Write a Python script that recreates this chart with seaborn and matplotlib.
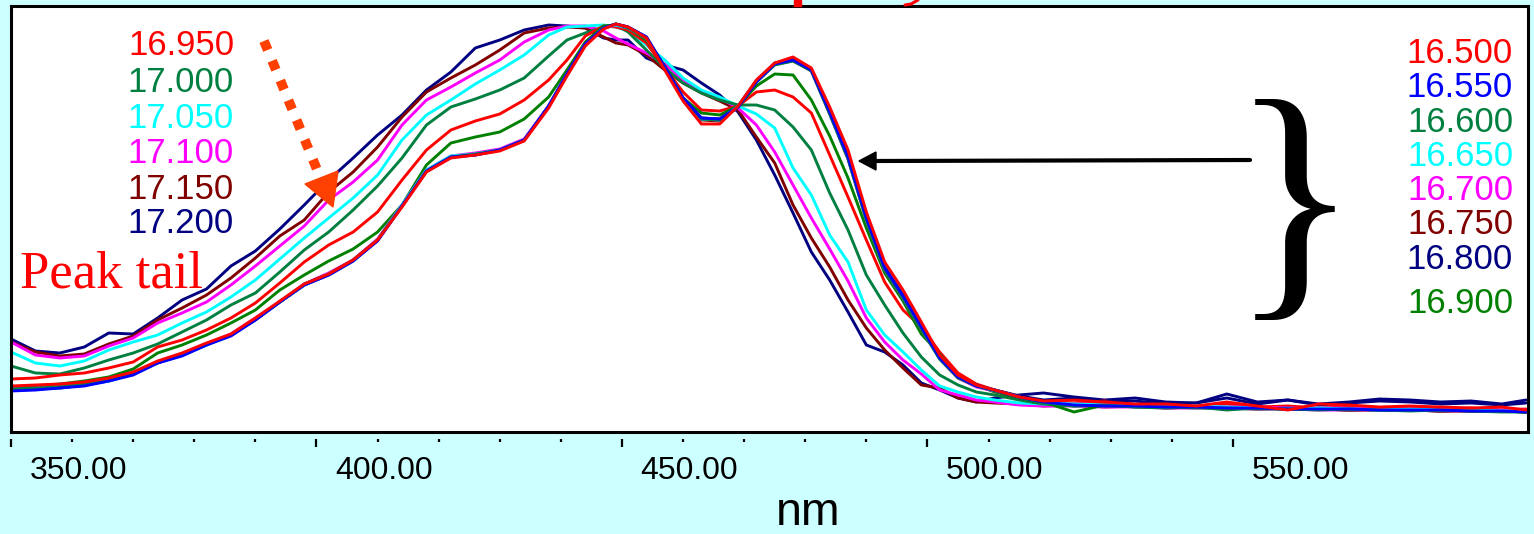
import matplotlib
matplotlib.use("Agg")
import matplotlib.pyplot as plt
import seaborn as sns
import pandas as pd
from matplotlib.lines import Line2D
from matplotlib.patches import Polygon, Rectangle
from matplotlib.ticker import FixedLocator, NullFormatter

# ---------------- data (absorbance, mAU) ----------------
wavelength_nm = [339, 343, 347, 351, 355, 359, 363, 367, 371, 375, 379, 383, 387, 391, 395,
                 399, 403, 407, 411, 415, 419, 423, 427, 430, 433, 436, 438, 440, 443, 446,
                 449, 452, 455, 458, 461, 464, 467, 470, 473, 476, 479, 482, 485, 488, 491,
                 494, 497, 500, 504, 508, 513, 518, 523, 528, 533, 538, 543, 548, 553, 558,
                 563, 568, 573, 578, 583, 587]

abs_16500 = [92, 94, 96, 100, 108, 120, 142, 158, 178, 196,
             228, 262, 296, 316, 344, 384, 450, 520, 548, 554,
             562, 582, 648, 712, 772, 806, 816, 810, 788, 724,
             662, 616, 616, 652, 704, 738, 750, 728, 650, 564,
             440, 340, 284, 220, 154, 114, 94, 84, 70, 62,
             64, 60, 56, 56, 52, 60, 52, 44, 56, 54,
             50, 52, 50, 48, 50, 44]
abs_16550 = [82, 84, 88, 92, 102, 114, 138, 152, 174, 192,
             224, 260, 294, 314, 342, 382, 452, 522, 550, 554,
             564, 584, 652, 716, 776, 808, 816, 810, 790, 730,
             668, 628, 626, 650, 700, 736, 744, 724, 640, 550,
             428, 328, 272, 210, 148, 110, 92, 84, 70, 60,
             54, 52, 52, 50, 50, 48, 48, 46, 46, 46,
             44, 44, 44, 42, 42, 40]
abs_16600 = [86, 88, 90, 96, 104, 116, 140, 154, 176, 194,
             226, 260, 296, 316, 344, 384, 452, 522, 550, 556,
             564, 584, 650, 714, 774, 808, 816, 808, 788, 728,
             666, 626, 624, 650, 700, 734, 742, 722, 636, 546,
             424, 324, 268, 206, 146, 108, 92, 82, 68, 58,
             52, 54, 50, 50, 48, 48, 46, 46, 44, 46,
             44, 42, 44, 42, 40, 40]
abs_16650 = [84, 86, 88, 94, 102, 116, 140, 154, 174, 194,
             226, 260, 294, 316, 342, 384, 454, 524, 552, 556,
             564, 584, 652, 714, 774, 808, 814, 808, 788, 728,
             666, 626, 624, 652, 702, 736, 744, 724, 638, 548,
             426, 326, 270, 208, 146, 110, 92, 84, 70, 58,
             56, 54, 52, 50, 52, 50, 48, 46, 48, 46,
             44, 46, 44, 44, 42, 42]
abs_16700 = [86, 88, 90, 96, 104, 118, 140, 156, 176, 196,
             228, 260, 296, 318, 344, 386, 454, 524, 552, 558,
             566, 586, 652, 716, 776, 808, 814, 808, 788, 728,
             666, 626, 624, 650, 702, 736, 744, 722, 636, 546,
             424, 324, 268, 206, 146, 108, 90, 82, 70, 60,
             56, 56, 54, 52, 52, 50, 50, 48, 48, 48,
             46, 46, 46, 44, 44, 44]
abs_16750 = [84, 86, 90, 94, 104, 116, 140, 154, 176, 194,
             226, 260, 294, 316, 344, 384, 452, 522, 550, 556,
             564, 584, 652, 714, 774, 808, 814, 808, 788, 728,
             666, 624, 622, 650, 700, 736, 742, 724, 638, 548,
             426, 326, 270, 208, 148, 110, 92, 82, 68, 58,
             54, 52, 52, 50, 50, 48, 48, 46, 46, 44,
             44, 44, 42, 42, 42, 40]
abs_16800 = [84, 86, 88, 94, 102, 116, 138, 154, 174, 194,
             224, 260, 294, 314, 342, 384, 452, 522, 550, 554,
             564, 584, 652, 716, 776, 808, 816, 810, 790, 730,
             668, 628, 626, 652, 702, 738, 746, 726, 642, 552,
             430, 330, 274, 212, 150, 112, 94, 84, 72, 64,
             68, 60, 62, 56, 58, 68, 56, 64, 54, 58,
             62, 60, 56, 58, 54, 58]
abs_16900 = [90, 92, 96, 102, 110, 126, 158, 174, 194, 218,
             244, 284, 314, 342, 366, 400, 454, 534, 578, 590,
             600, 626, 670, 724, 780, 812, 814, 808, 784, 732,
             668, 638, 634, 652, 692, 716, 714, 664, 592, 508,
             408, 318, 262, 196, 156, 110, 94, 80, 68, 60,
             40, 54, 52, 52, 50, 48, 48, 48, 46, 46,
             44, 44, 44, 42, 42, 40]
abs_16950 = [106, 108, 114, 118, 128, 140, 170, 184, 204, 228,
             258, 298, 340, 374, 400, 440, 504, 564, 604, 622,
             636, 664, 704, 744, 792, 812, 810, 804, 778, 728,
             680, 644, 642, 652, 680, 684, 670, 638, 554, 470,
             384, 300, 244, 210, 160, 118, 96, 84, 72, 62,
             58, 62, 54, 56, 52, 56, 50, 52, 48, 50,
             46, 50, 46, 48, 44, 46]
abs_17000 = [132, 118, 116, 128, 144, 158, 176, 200, 224, 254,
             278, 320, 364, 400, 444, 492, 548, 614, 650, 666,
             684, 708, 752, 784, 798, 810, 814, 800, 764, 728,
             698, 678, 664, 654, 654, 644, 610, 564, 478, 404,
             314, 254, 198, 150, 114, 94, 80, 74, 64, 56,
             52, 54, 50, 48, 50, 44, 48, 46, 46, 44,
             46, 44, 42, 44, 42, 40]
abs_17050 = [160, 138, 132, 142, 164, 180, 194, 218, 240, 270,
             304, 346, 388, 428, 468, 514, 584, 634, 664, 696,
             724, 754, 794, 810, 812, 814, 810, 802, 774, 744,
             708, 684, 670, 652, 636, 608, 528, 474, 394, 340,
             244, 194, 160, 124, 92, 80, 70, 64, 58, 56,
             54, 52, 52, 50, 50, 48, 48, 46, 46, 46,
             44, 44, 44, 42, 42, 40]
abs_17100 = [180, 154, 148, 152, 172, 188, 218, 238, 260, 294,
             332, 372, 412, 464, 500, 544, 614, 664, 690, 718,
             744, 780, 804, 812, 812, 802, 788, 776, 758, 736,
             704, 680, 668, 648, 614, 560, 494, 428, 366, 302,
             228, 180, 144, 116, 84, 74, 64, 60, 54, 52,
             52, 50, 50, 48, 48, 48, 46, 46, 44, 44,
             44, 44, 42, 42, 42, 40]
abs_17150 = [180, 160, 152, 156, 176, 192, 224, 248, 274, 308,
             348, 392, 424, 480, 520, 570, 630, 680, 708, 734,
             764, 798, 808, 810, 808, 790, 778, 774, 754, 724,
             698, 678, 662, 644, 590, 538, 454, 388, 330, 264,
             208, 164, 128, 94, 88, 68, 60, 58, 56, 52,
             54, 50, 52, 48, 50, 48, 46, 48, 46, 44,
             46, 44, 42, 44, 42, 42]
abs_17200 = [186, 162, 158, 170, 198, 196, 228, 264, 286, 332,
             362, 406, 454, 504, 548, 594, 634, 684, 720, 768,
             784, 804, 814, 812, 808, 788, 784, 784, 748, 734,
             724, 698, 674, 640, 584, 514, 438, 360, 304, 240,
             174, 160, 134, 98, 84, 68, 60, 68, 74, 78,
             70, 64, 68, 60, 58, 76, 60, 64, 56, 60,
             66, 64, 60, 62, 56, 64]

series_labels = ["16.500", "16.550", "16.600", "16.650", "16.700", "16.750", "16.800",
                 "16.900", "16.950", "17.000", "17.050", "17.100", "17.150", "17.200"]
series_values = [abs_16500, abs_16550, abs_16600, abs_16650, abs_16700, abs_16750, abs_16800,
                 abs_16900, abs_16950, abs_17000, abs_17050, abs_17100, abs_17150, abs_17200]
series_colors = ["#FF0000", "#0000FF", "#008040", "#00FFFF", "#FF00FF", "#800000", "#000080",
                 "#008000", "#FF0000", "#008040", "#00FFFF", "#FF00FF", "#800000", "#000080"]

tick_values = [350, 400, 450, 500, 550]
tick_labels = ["350.00", "400.00", "450.00", "500.00", "550.00"]
mark_major = [339, 389, 439, 489, 539]
mark_minor = [349, 359, 369, 379, 399, 409, 419, 429, 449, 459, 469, 479,
              499, 509, 519, 529]

left_labels = ["16.950", "17.000", "17.050", "17.100", "17.150", "17.200"]
right_labels = ["16.500", "16.550", "16.600", "16.650", "16.700", "16.750", "16.800", "16.900"]

# ---------------- table ----------------
rows = []
for lab, vals in zip(series_labels, series_values):
    for w, v in zip(wavelength_nm, vals):
        rows.append({"nm": w, "mAU": v, "series": lab})
df = pd.DataFrame(rows)
palette = dict(zip(series_labels, series_colors))

# ---------------- style ----------------
sns.set_theme(style="white")
plt.rcParams["font.family"] = ["Liberation Sans", "DejaVu Sans"]

W, H = 1534, 534
fig = plt.figure(figsize=(W / 100, H / 100), dpi=100, facecolor="#CCFFFF")
ax = fig.add_axes([11 / W, 1 - 432 / H, 1517 / W, 426 / H])
ax.set_facecolor("white")

draw_order = series_labels[::-1]
sns.lineplot(data=df, x="nm", y="mAU", hue="series", hue_order=draw_order,
             palette=palette, estimator=None, sort=False, linewidth=2.1,
             legend=False, ax=ax)

ax.set_xlim(339, 587.3)
ax.set_ylim(0, 852)
ax.set_yticks([])
ax.set_ylabel("")
ax.set_xticks(tick_values, tick_labels)
ax.tick_params(axis="x", length=0, pad=17, labelsize=23, colors="black")
for sp in ax.spines.values():
    sp.set_visible(True)
    sp.set_color("black")
    sp.set_linewidth(2.2)

ax.set_xlabel("nm", fontsize=33.5, color="black")
ax.xaxis.label.set_va("center")
ax.xaxis.set_label_coords((808 - 11) / 1517, (432 - 513) / 426)

# detached tick marks below the axis
sec = ax.secondary_xaxis(-0.016)
sec.spines["bottom"].set_visible(False)
sec.xaxis.set_major_locator(FixedLocator(mark_major))
sec.xaxis.set_minor_locator(FixedLocator(mark_minor))
sec.xaxis.set_major_formatter(NullFormatter())
sec.xaxis.set_minor_formatter(NullFormatter())
sec.tick_params(which="major", direction="out", length=6, width=1.6, color="black")
sec.tick_params(which="minor", direction="out", length=2.5, width=1.6, color="black")


def fx(x):
    return x / W


def fy(y):
    return 1 - y / H


# series annotation columns
left_base = [55, 92, 128, 163, 199, 233]
for lab, yb in zip(left_labels, left_base):
    fig.text(fx(234), fy(yb), lab, ha="right", va="baseline", fontsize=25,
             color=palette[lab])
right_base = [63, 97, 132, 166, 200, 234, 269, 313]
for lab, yb in zip(right_labels, right_base):
    fig.text(fx(1513), fy(yb), lab, ha="right", va="baseline", fontsize=25,
             color=palette[lab])

fig.text(fx(20), fy(287), "Peak tail", ha="left", va="baseline", fontsize=38,
         color="#FF0000", family=["Liberation Serif", "DejaVu Serif"])

# brace
fig.text(fx(1295), fy(220), "}", ha="center", va="center", fontsize=192,
         color="black", family=["Liberation Serif", "DejaVu Serif"])

# black arrow
fig.add_artist(Line2D([fx(1250), fx(872)], [fy(160), fy(161)], color="black", lw=3.0,
                      transform=fig.transFigure))
fig.add_artist(Polygon([[fx(859), fy(161)], [fx(876), fy(152)], [fx(876), fy(170)]],
                       closed=True, color="black", transform=fig.transFigure))

# dotted orange arrow
fig.add_artist(Line2D([fx(264), fx(318)], [fy(41), fy(172)], color="#FF4000", lw=7.0,
                      linestyle=(0, (1, 1.2)), solid_capstyle="butt", dash_capstyle="butt",
                      transform=fig.transFigure))
fig.add_artist(Polygon([[fx(333), fy(207)], [fx(305), fy(184)], [fx(338), fy(171)]],
                       closed=True, color="#FF4000", transform=fig.transFigure))

# cropped red title remnants above the frame
fig.add_artist(Rectangle((fx(794), fy(6)), 7 / W, 6 / H, color="#FF0000",
                         transform=fig.transFigure))
fig.add_artist(Line2D([fx(905), fx(911), fx(918)], [fy(5), fy(4), fy(0)], color="#FF0000",
                      lw=2.2, transform=fig.transFigure))

fig.savefig("out.png", dpi=100, facecolor=fig.get_facecolor())
